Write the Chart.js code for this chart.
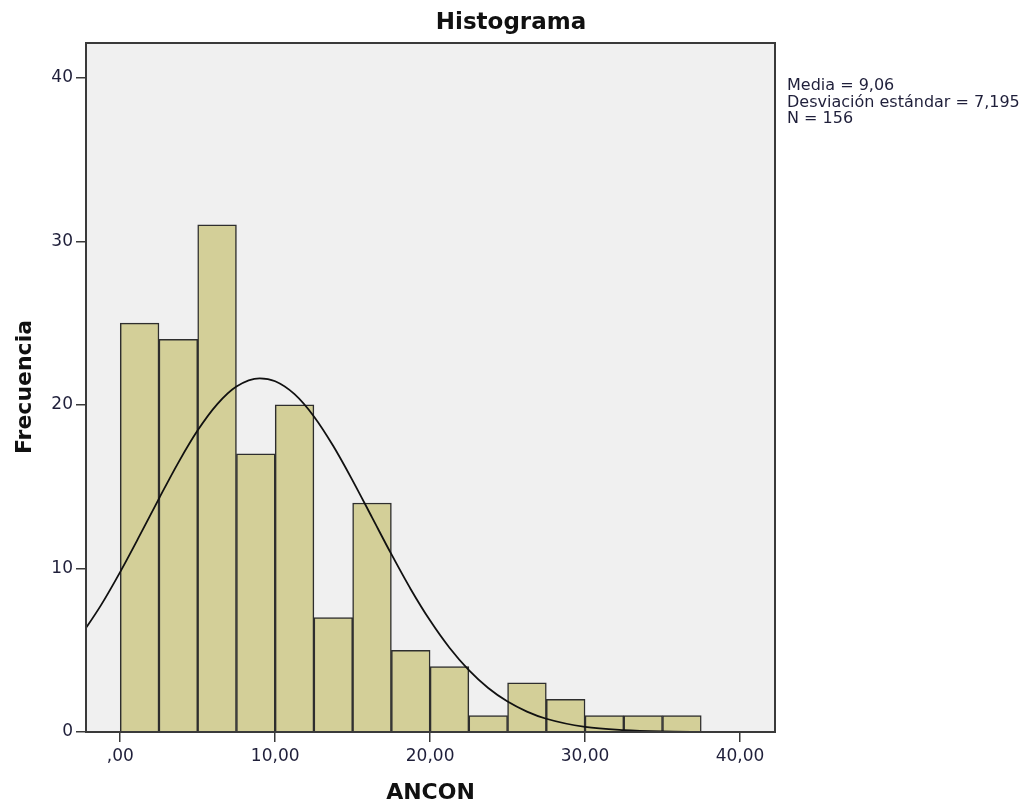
<!DOCTYPE html>
<html>
<head>
<meta charset="utf-8">
<title>Histograma</title>
<script src="https://cdn.jsdelivr.net/npm/chart.js@4.4.1/dist/chart.umd.min.js"></script>
<style>
  html, body { margin: 0; padding: 0; background: #fff; }
  #wrap { width: 1026px; height: 805px; }
</style>
</head>
<body>
<div id="wrap"><canvas id="chart" width="1026" height="805"></canvas></div>
<script>
// histogram bins (width 2,5) and counts
const binCenters = [1.25, 3.75, 6.25, 8.75, 11.25, 13.75, 16.25, 18.75, 21.25, 23.75, 26.25, 28.75, 31.25, 33.75, 36.25];
const counts = [25, 24, 31, 17, 20, 7, 14, 5, 4, 1, 3, 2, 1, 1, 1];

// normal curve
const curveX = [-2.5, -1.25, 0, 1.25, 2.5, 3.75, 5, 6.25, 7.5, 9, 10, 11.25, 12.5, 13.75, 15, 16.25, 17.5, 18.75, 20, 21.25, 22.5, 23.75, 25, 26.25, 27.5, 30, 32.5, 35, 37.5, 40, 42.5];
const curveY = [5.95, 7.74, 9.79, 12.0, 14.27, 16.47, 18.44, 20.03, 21.12, 21.62, 21.44, 20.65, 19.29, 17.48, 15.37, 13.12, 10.87, 8.73, 6.81, 5.15, 3.78, 2.69, 1.86, 1.25, 0.81, 0.31, 0.11, 0.03, 0.01, 0.0, 0.0];

const xTicks = [0, 10, 20, 30, 40];
const yTicks = [0, 10, 20, 30, 40];
const statLines = ["Media = 9,06", "Desviación estándar = 7,195", "N = 156"];

const AXIS = "#3a3a3a";
const TICK_TXT = "#1f1f3a";

function fmtX(v) {
  const s = v.toFixed(2).replace(".", ",");
  return v === 0 ? ",00" : s;
}

const frame = {
  id: "frame",
  beforeDatasetsDraw(chart) {
    const { ctx, chartArea: a } = chart;
    ctx.save();
    ctx.fillStyle = "#f0f0f0";
    ctx.fillRect(a.left, a.top, a.right - a.left, a.bottom - a.top);
    ctx.restore();
  },
  afterDraw(chart) {
    const { ctx, chartArea: a } = chart;
    ctx.save();
    ctx.strokeStyle = AXIS;
    ctx.lineWidth = 2;
    ctx.strokeRect(a.left, a.top, a.right - a.left, a.bottom - a.top);

    ctx.fillStyle = "#111";
    ctx.font = "bold 23px 'DejaVu Sans'";
    ctx.textAlign = "center";
    ctx.textBaseline = "alphabetic";
    ctx.fillText("Histograma", 511, 29);

    ctx.font = "bold 22px 'DejaVu Sans'";
    ctx.fillText("ANCON", (a.left + a.right) / 2, 799);

    ctx.save();
    ctx.translate(31, 387);
    ctx.rotate(-Math.PI / 2);
    ctx.fillText("Frecuencia", 0, 0);
    ctx.restore();

    ctx.fillStyle = TICK_TXT;
    ctx.font = "16px 'DejaVu Sans'";
    ctx.textAlign = "left";
    statLines.forEach((t, i) => ctx.fillText(t, 787, 90 + i * 16.5));
    ctx.restore();
  }
};

const ctx = document.getElementById("chart").getContext("2d");
new Chart(ctx, {
  type: "bar",
  data: {
    datasets: [
      {
        type: "line",
        data: curveX.map((x, i) => ({ x, y: curveY[i] })),
        borderColor: "#111",
        borderWidth: 1.8,
        pointRadius: 0,
        cubicInterpolationMode: "monotone",
        fill: false,
        order: 0
      },
      {
        data: binCenters.map((x, i) => ({ x, y: counts[i] })),
        backgroundColor: "#d3cf98",
        borderColor: "#2e2e2e",
        borderWidth: 1.5,
        barPercentage: 1,
        categoryPercentage: 1,
        order: 1
      }
    ]
  },
  options: {
    responsive: false,
    animation: false,
    layout: { padding: { left: 0, top: 43, right: 1026 - 775, bottom: 0 } },
    plugins: { legend: { display: false }, tooltip: { enabled: false }, title: { display: false } },
    scales: {
      x: {
        type: "linear",
        min: -2.21,
        max: 42.26,
        offset: false,
        afterBuildTicks: s => { s.ticks = xTicks.map(v => ({ value: v })); },
        afterFit: s => { s.height = 73; },
        grid: { drawOnChartArea: false, drawTicks: true, tickLength: 10, color: AXIS, lineWidth: 1.5, offset: false },
        border: { display: true, color: AXIS, width: 2 },
        ticks: { color: TICK_TXT, font: { family: "DejaVu Sans", size: 17 }, padding: 4, maxRotation: 0, callback: v => fmtX(v) }
      },
      y: {
        min: 0,
        max: 42.12,
        afterBuildTicks: s => { s.ticks = yTicks.map(v => ({ value: v })); },
        afterFit: s => { s.width = 86; },
        grid: { drawOnChartArea: false, drawTicks: true, tickLength: 10, color: AXIS, lineWidth: 1.5 },
        border: { display: true, color: AXIS, width: 2 },
        ticks: { color: TICK_TXT, font: { family: "DejaVu Sans", size: 17 }, padding: 3, callback: v => String(v) }
      }
    }
  },
  plugins: [frame]
});
</script>
</body>
</html>
